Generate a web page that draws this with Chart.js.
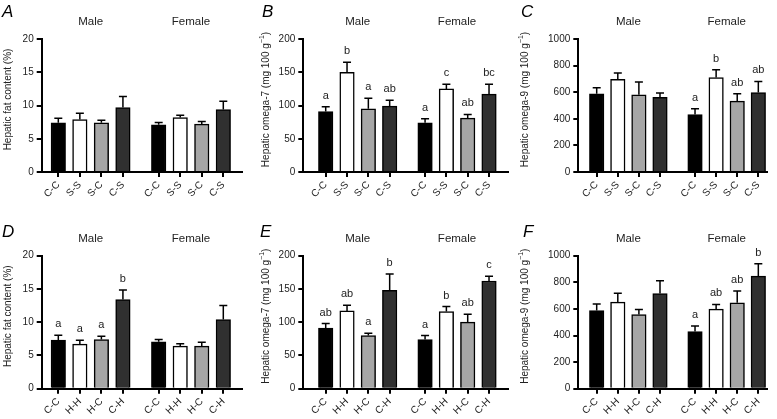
<!DOCTYPE html>
<html>
<head>
<meta charset="utf-8">
<script src="https://cdn.jsdelivr.net/npm/chart.js@4.4.1/dist/chart.umd.min.js"></script>
<style>
  body { margin: 0; background: #fff; }
  #fig { position: relative; width: 777px; height: 419px; background: #fff; overflow: hidden; }
  #fig canvas { position: absolute; }
</style>
</head>
<body>
<div id="fig"></div>
<script>
// === DATA ===
const sexes = ["Male", "Female"];
const sucroseGroups = ["C-C", "S-S", "S-C", "C-S", "C-C", "S-S", "S-C", "C-S"];
const hfdGroups = ["C-C", "H-H", "H-C", "C-H", "C-C", "H-H", "H-C", "C-H"];

// A - hepatic fat, sucrose
const fatSucrose = [7.4, 7.9, 7.4, 9.7, 7.1, 8.2, 7.2, 9.4];
const fatSucroseSem = [0.7, 0.95, 0.4, 1.65, 0.35, 0.35, 0.4, 1.25];

// B - omega-7, sucrose
const o7Sucrose = [91, 150, 95, 99, 74, 125, 81, 117];
const o7SucroseSem = [7, 15, 16, 9, 6, 7, 5.5, 15];
const o7SucroseLetters = ["a", "b", "a", "ab", "a", "c", "ab", "bc"];

// C - omega-9, sucrose
const o9Sucrose = [588, 697, 581, 561, 432, 710, 533, 598];
const o9SucroseSem = [45, 48, 96, 33, 43, 58, 55, 83];
const o9SucroseLetters = ["", "", "", "", "a", "b", "ab", "ab"];

// D - hepatic fat, HFD
const fatHfd = [7.3, 6.7, 7.4, 13.4, 7.05, 6.4, 6.4, 10.4];
const fatHfdSem = [0.75, 0.6, 0.5, 1.45, 0.35, 0.35, 0.6, 2.1];
const fatHfdLetters = ["a", "a", "a", "b", "", "", "", ""];

// E - omega-7, HFD
const o7Hfd = [91, 117, 80, 148, 74, 116, 100, 162];
const o7HfdSem = [7, 8.5, 3.5, 24.5, 6, 7.5, 12, 7];
const o7HfdLetters = ["ab", "ab", "a", "b", "a", "b", "ab", "c"];

// F - omega-9, HFD
const o9Hfd = [588, 651, 557, 715, 430, 598, 646, 847];
const o9HfdSem = [48, 66, 38, 97, 41, 36, 89, 92];
const o9HfdLetters = ["", "", "", "", "a", "ab", "ab", "b"];

// === LAYOUT ===
const groupGap = 0.66;   // extra space between male and female groups
const xPos = [0, 1, 2, 3, 4, 5, 6, 7].map(i => i < 4 ? i + 1 : i + 1 + groupGap);
const barColors = ["#000000", "#ffffff", "#a6a6a6", "#303030"];
const textColor = "#222";
const FONT = '"Liberation Sans", Arial, sans-serif';

const fatTitle = [["Hepatic fat content (%)", false]];
const o7Title = [["Hepatic omega-7 (mg 100 g", false], ["\u22121", true], [")", false]];
const o9Title = [["Hepatic omega-9 (mg 100 g", false], ["\u22121", true], [")", false]];

const topRow = { top: 0, height: 205, padT: 39, xH: 33, letterY: 17 };
const botRow = { top: 217, height: 202, padT: 38.7, xH: 30.3, letterY: 19.5 };
const col1 = { left: 0, width: 258, yW: 41.7, padR: 16, xMin: 0.229, xMax: 9.528, letterX: 2 };
const col2 = { left: 258, width: 259, yW: 45.3, padR: 9, xMin: -0.051, xMax: 9.55, letterX: 4 };
const col3 = { left: 517, width: 260, yW: 61.3, padR: 10.3, xMin: 0.128, xMax: 9.057, letterX: 4 };

const panels = [
  { letter: "A", ...topRow, ...col1, labels: sucroseGroups, values: fatSucrose, sem: fatSucroseSem, letters: null, yMax: 20, yStep: 5, yTitle: fatTitle },
  { letter: "B", ...topRow, ...col2, labels: sucroseGroups, values: o7Sucrose, sem: o7SucroseSem, letters: o7SucroseLetters, yMax: 200, yStep: 50, yTitle: o7Title },
  { letter: "C", ...topRow, ...col3, labels: sucroseGroups, values: o9Sucrose, sem: o9SucroseSem, letters: o9SucroseLetters, yMax: 1000, yStep: 200, yTitle: o9Title },
  { letter: "D", ...botRow, ...col1, labels: hfdGroups, values: fatHfd, sem: fatHfdSem, letters: fatHfdLetters, yMax: 20, yStep: 5, yTitle: fatTitle },
  { letter: "E", ...botRow, ...col2, labels: hfdGroups, values: o7Hfd, sem: o7HfdSem, letters: o7HfdLetters, yMax: 200, yStep: 50, yTitle: o7Title, letterX: 2 },
  { letter: "F", ...botRow, ...col3, labels: hfdGroups, values: o9Hfd, sem: o9HfdSem, letters: o9HfdLetters, yMax: 1000, yStep: 200, yTitle: o9Title, letterX: 6 }
];

// === Overlay: error bars, letters, headers, titles ===
function drawRich(ctx, parts, cx, cy, size) {
  const widths = parts.map(([t, sup]) => {
    ctx.font = `${sup ? size * 0.7 : size}px ${FONT}`;
    return ctx.measureText(t).width;
  });
  let x = cx - widths.reduce((a, b) => a + b, 0) / 2;
  parts.forEach(([t, sup], i) => {
    ctx.font = `${sup ? size * 0.7 : size}px ${FONT}`;
    ctx.fillText(t, x, sup ? cy - size * 0.35 : cy);
    x += widths[i];
  });
}

function overlay(p) {
  return {
    id: "overlay" + p.letter,
    afterDraw(chart) {
      const { ctx, chartArea } = chart;
      const x = chart.scales.x, y = chart.scales.y;
      ctx.save();
      ctx.strokeStyle = "#000";
      ctx.fillStyle = textColor;
      ctx.lineWidth = 1.5;
      ctx.textAlign = "center";
      ctx.textBaseline = "alphabetic";
      ctx.font = `11px ${FONT}`;

      p.values.forEach((v, i) => {
        const cx = x.getPixelForValue(xPos[i]);
        const y0 = y.getPixelForValue(v);
        const y1 = y.getPixelForValue(v + p.sem[i]);
        ctx.beginPath();
        ctx.moveTo(cx, y0);
        ctx.lineTo(cx, y1);
        ctx.moveTo(cx - 4, y1);
        ctx.lineTo(cx + 4, y1);
        ctx.stroke();
        if (p.letters && p.letters[i]) ctx.fillText(p.letters[i], cx, y1 - 8);
      });

      // Male / Female headers
      ctx.font = `11.5px ${FONT}`;
      ctx.textBaseline = "middle";
      ctx.fillText(sexes[0], x.getPixelForValue((xPos[0] + xPos[3]) / 2), chartArea.top - 17);
      ctx.fillText(sexes[1], x.getPixelForValue((xPos[4] + xPos[7]) / 2), chartArea.top - 17);

      // y axis title
      ctx.save();
      ctx.translate(8, (chartArea.top + chartArea.bottom) / 2 - 6);
      ctx.rotate(-Math.PI / 2);
      ctx.textAlign = "left";
      ctx.textBaseline = "middle";
      drawRich(ctx, p.yTitle, 0, 0, 10);
      ctx.restore();

      // panel letter
      ctx.font = `italic 17px ${FONT}`;
      ctx.textAlign = "left";
      ctx.textBaseline = "alphabetic";
      ctx.fillStyle = "#000";
      ctx.fillText(p.letter, p.letterX, p.letterY);
      ctx.restore();
    }
  };
}

// === Build panels ===
const fig = document.getElementById("fig");

panels.forEach(p => {
  const canvas = document.createElement("canvas");
  canvas.width = p.width;
  canvas.height = p.height;
  canvas.style.left = p.left + "px";
  canvas.style.top = p.top + "px";
  fig.appendChild(canvas);

  new Chart(canvas.getContext("2d"), {
    type: "bar",
    data: {
      datasets: [{
        data: p.values.map((v, i) => ({ x: xPos[i], y: v })),
        backgroundColor: p.values.map((v, i) => barColors[i % 4]),
        borderColor: "#000",
        borderWidth: 1.5,
        barThickness: 14.5
      }]
    },
    options: {
      responsive: false,
      animation: false,
      devicePixelRatio: 1,
      layout: { padding: { top: p.padT, right: p.padR, left: 0, bottom: 0 } },
      plugins: { legend: { display: false }, tooltip: { enabled: false } },
      scales: {
        x: {
          type: "linear",
          min: p.xMin,
          max: p.xMax,
          offset: false,
          afterBuildTicks: s => { s.ticks = xPos.map(v => ({ value: v })); },
          afterFit: s => { s.height = p.xH; },
          ticks: {
            callback: (v, i) => p.labels[i],
            minRotation: 45,
            maxRotation: 45,
            autoSkip: false,
            padding: 2,
            color: textColor,
            font: { family: FONT, size: 10 }
          },
          grid: { offset: false, drawOnChartArea: false, tickLength: 5, lineWidth: 2, color: "#000" },
          border: { color: "#000", width: 2 }
        },
        y: {
          min: 0,
          max: p.yMax,
          afterFit: s => { s.width = p.yW; },
          ticks: {
            stepSize: p.yStep,
            padding: 3,
            callback: v => String(v),
            color: textColor,
            font: { family: FONT, size: 10 }
          },
          grid: { drawOnChartArea: false, tickLength: 5, lineWidth: 2, color: "#000" },
          border: { color: "#000", width: 2 }
        }
      }
    },
    plugins: [overlay(p)]
  });
});
</script>
</body>
</html>
